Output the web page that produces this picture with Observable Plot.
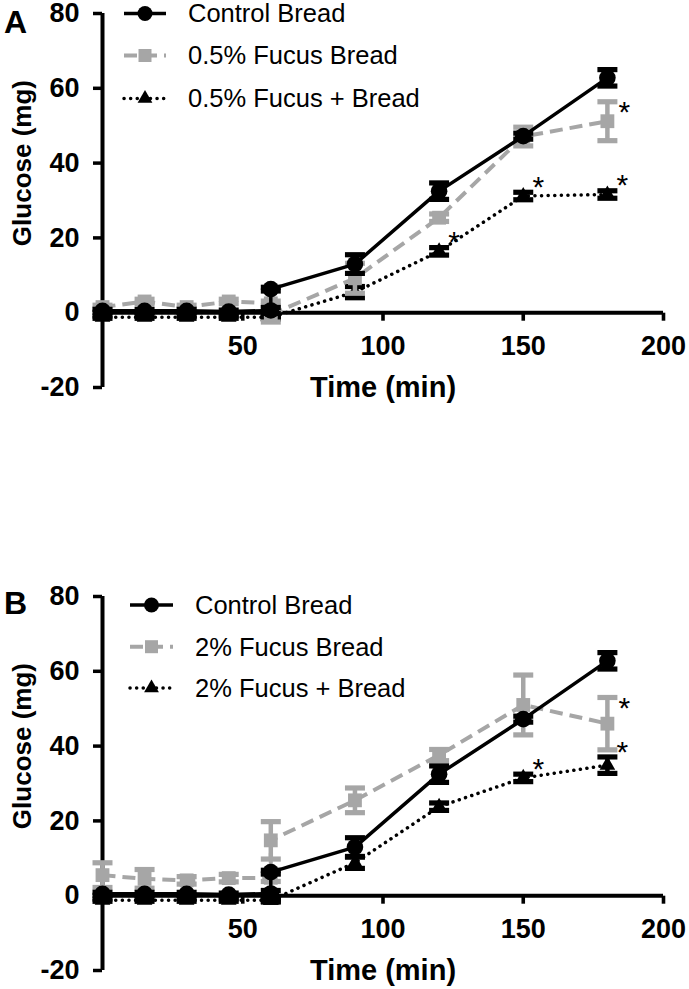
<!DOCTYPE html>
<html><head><meta charset="utf-8">
<script src="https://cdn.jsdelivr.net/npm/d3@7"></script>
<script src="https://cdn.jsdelivr.net/npm/@observablehq/plot@0.6"></script>
<style>
body{margin:0;background:#fff;}
#wrap{position:relative;width:689px;height:989px;font-family:"Liberation Sans",Arial,sans-serif;}
.panel{position:absolute;left:0;}
</style>
</head><body><div id="wrap"></div>
<script>
// ---- data ----
const times = [0, 15, 30, 45, 60, 60, 90, 120, 150, 180];
const yTicks = [-20, 0, 20, 40, 60, 80];
const xTicks = [50, 100, 150, 200];

const controlMean = [0.5, 0.5, 0.5, 0.3, 0.6, 6.3, 13, 32.5, 47.2, 62.8];
const controlErr  = [0.4, 0.4, 0.4, 0.4, 0.8, 0.5, 2.5, 2.2, 0.8, 2.2];

const grayA_Mean = [1.5, 3, 1.5, 3, 2.5, -0.5, 9.2, 25.4, 47.1, 51.2];
const grayA_Err  = [0.5, 0.6, 0.5, 0.6, 0.6, 2, 4, 1, 2.5, 5.2];
const triA_Mean  = [-1.2, -1.2, -1.2, -1.2, -1.2, -1.2, 5.5, 16.4, 31.2, 31.6];
const triA_Err   = [0.3, 0.3, 0.3, 0.3, 0.3, 0.5, 1.5, 1, 1, 1];

const grayB_Mean = [5.5, 4.5, 4.1, 4.7, 4.8, 14.8, 25.5, 37.6, 51, 46];
const grayB_Err  = [3.3, 2.5, 1, 1, 1, 5, 3.3, 1.5, 8, 7];
const triB_Mean  = [-1.2, -1.2, -1.2, -1.2, -1.2, -1.2, 8.8, 23.8, 31.5, 34.9];
const triB_Err   = [0.3, 0.3, 0.3, 0.3, 0.3, 0.5, 1.5, 1, 1, 2.2];

const legendA = ["Control Bread", "0.5% Fucus Bread", "0.5% Fucus + Bread"];
const legendB = ["Control Bread", "2% Fucus Bread", "2% Fucus + Bread"];

const starsA_gray = [180];
const starsA_tri  = [120, 150, 180];
const starsB_gray = [180];
const starsB_tri  = [150, 180];

const GRAY = "#a6a6a6";
const FONT = "Liberation Sans, Arial, sans-serif";

// custom symbols (pixel sized)
const capSym = {draw(ctx, size) { const w = Math.sqrt(size / Math.PI); ctx.moveTo(-w, -2.6); ctx.lineTo(w, -2.6); ctx.lineTo(w, 2.6); ctx.lineTo(-w, 2.6); ctx.closePath(); }};
const vTickSym = {draw(ctx, size) { ctx.moveTo(-1.8, 0); ctx.lineTo(1.8, 0); ctx.lineTo(1.8, 8); ctx.lineTo(-1.8, 8); ctx.closePath(); }};

function rows(means, errs) { return times.map((t, i) => ({t, v: means[i], e: errs[i]})); }

function seriesMarks(data, o) {
  return [
    Plot.line(data, {x: "t", y: "v", stroke: o.color, strokeWidth: o.lw, strokeDasharray: o.dash, strokeLinecap: o.cap || "butt"}),
    Plot.ruleX(data, {x: "t", y1: d => d.v - d.e, y2: d => d.v + d.e, stroke: o.color, strokeWidth: 4.5}),
    Plot.dot(data, {x: "t", y: d => d.v - d.e, symbol: capSym, r: 10, fill: o.color, stroke: "none"}),
    Plot.dot(data, {x: "t", y: d => d.v + d.e, symbol: capSym, r: 10, fill: o.color, stroke: "none"}),
    Plot.dot(data, {x: "t", y: "v", symbol: o.symbol, r: o.r, fill: o.color, stroke: "none"})
  ];
}

function starRows(ts, data) {
  return ts.map(t => { const d = data.filter(r => r.t === t).pop(); return {t, y: d.v + d.e}; });
}

function panel(letter, ctrl, gray, tri, starsGray, starsTri, letterDy) {
  return Plot.plot({
    width: 689, height: 420,
    marginLeft: 102, marginRight: 26, marginTop: 13, marginBottom: 33,
    x: {domain: [0, 200], axis: null},
    y: {domain: [-20, 80], axis: null},
    style: {fontFamily: FONT, background: "white", overflow: "visible"},
    marks: [
      Plot.axisY({ticks: yTicks, tickSize: 9, tickPadding: 14, tickFormat: d => String(d), label: null,
                  fontSize: 27, fontWeight: "bold", strokeWidth: 3.5, fill: "black"}),
      Plot.ruleX([0], {y1: yTicks[0], y2: yTicks[yTicks.length - 1], strokeWidth: 4}),
      Plot.ruleY([0], {x1: 0, x2: xTicks[xTicks.length - 1], strokeWidth: 4}),
      Plot.dot(xTicks, {x: d => d, y: 0, symbol: vTickSym, r: 5, fill: "black", stroke: "none"}),
      Plot.text(xTicks, {x: d => d, y: 0, text: d => String(d), dy: 23, lineAnchor: "top", fontSize: 27, fontWeight: "bold"}),
      Plot.text(["Time (min)"], {frameAnchor: "bottom", textAnchor: "middle", lineAnchor: "middle", dy: 0, fontSize: 29, fontWeight: "bold"}),
      Plot.text(["Glucose (mg)"], {frameAnchor: "left", y: () => 40, dx: -80, rotate: -90, textAnchor: "middle", lineAnchor: "middle", fontSize: 26, fontWeight: "bold"}),
      Plot.text([letter], {frameAnchor: "top-left", dx: -87, dy: letterDy, fontSize: 32, fontWeight: "bold", textAnchor: "middle", lineAnchor: "middle"}),
      ...seriesMarks(tri, {color: "black", lw: 3.5, dash: "0.1,6.5", cap: "round", symbol: "triangle", r: 5.8}),
      ...seriesMarks(gray, {color: GRAY, lw: 4, dash: "13,7", symbol: "square", r: 7.8}),
      ...seriesMarks(ctrl, {color: "black", lw: 3.5, dash: null, symbol: "circle", r: 8.3}),
      Plot.text(starsGray, {x: "t", y: "y", text: () => "*", dx: 17, dy: 11, fontSize: 30, textAnchor: "middle", lineAnchor: "middle"}),
      Plot.text(starsTri, {x: "t", y: "y", text: () => "*", dx: 15, dy: -5, fontSize: 30, textAnchor: "middle", lineAnchor: "middle"})
    ]
  });
}

function legend(labels, rowsY, x0, x1, xt) {
  const svg = d3.create("svg").attr("width", 689).attr("height", 130).style("position", "absolute").style("left", "0px").style("top", "0px").style("overflow", "visible");
  const styles = [
    {color: "black", lw: 3.5, dash: null, cap: "butt", sym: d3.symbolCircle, size: Math.PI * 7.5 * 7.5},
    {color: GRAY, lw: 4, dash: "13,7", cap: "butt", sym: d3.symbolSquare, size: 13 * 13},
    {color: "black", lw: 3.5, dash: "0.1,6.5", cap: "round", sym: d3.symbolTriangle, size: 95}
  ];
  labels.forEach((lab, i) => {
    const s = styles[i], y = rowsY[i], xm = (x0 + x1) / 2;
    svg.append("line").attr("x1", x0).attr("x2", x1).attr("y1", y).attr("y2", y)
      .attr("stroke", s.color).attr("stroke-width", s.lw).attr("stroke-dasharray", s.dash).attr("stroke-linecap", s.cap);
    svg.append("path").attr("d", d3.symbol(s.sym, s.size)()).attr("transform", `translate(${xm},${y})`).attr("fill", s.color);
    svg.append("text").attr("x", xt).attr("y", y).attr("dy", "0.35em").attr("font-size", 25.5).attr("font-family", FONT).text(lab);
  });
  return svg.node();
}

const wrap = document.getElementById("wrap");
function place(node, top) { const d = document.createElement("div"); d.className = "panel"; d.style.top = top + "px"; d.appendChild(node); wrap.appendChild(d); return d; }

const ctrlRows = rows(controlMean, controlErr);
const gA = rows(grayA_Mean, grayA_Err), tA = rows(triA_Mean, triA_Err);
const gB = rows(grayB_Mean, grayB_Err), tB = rows(triB_Mean, triB_Err);

const pA = place(panel("A", ctrlRows, gA, tA, starRows(starsA_gray, gA), starRows(starsA_tri, tA), 9), 0);
pA.appendChild(legend(legendA, [13.5, 55.5, 98.5], 124, 166, 188));
const pB = place(panel("B", ctrlRows, gB, tB, starRows(starsB_gray, gB), starRows(starsB_tri, tB), 7), 583);
pB.appendChild(legend(legendB, [22, 63.7, 105], 130, 173, 195));
</script>
</body></html>
